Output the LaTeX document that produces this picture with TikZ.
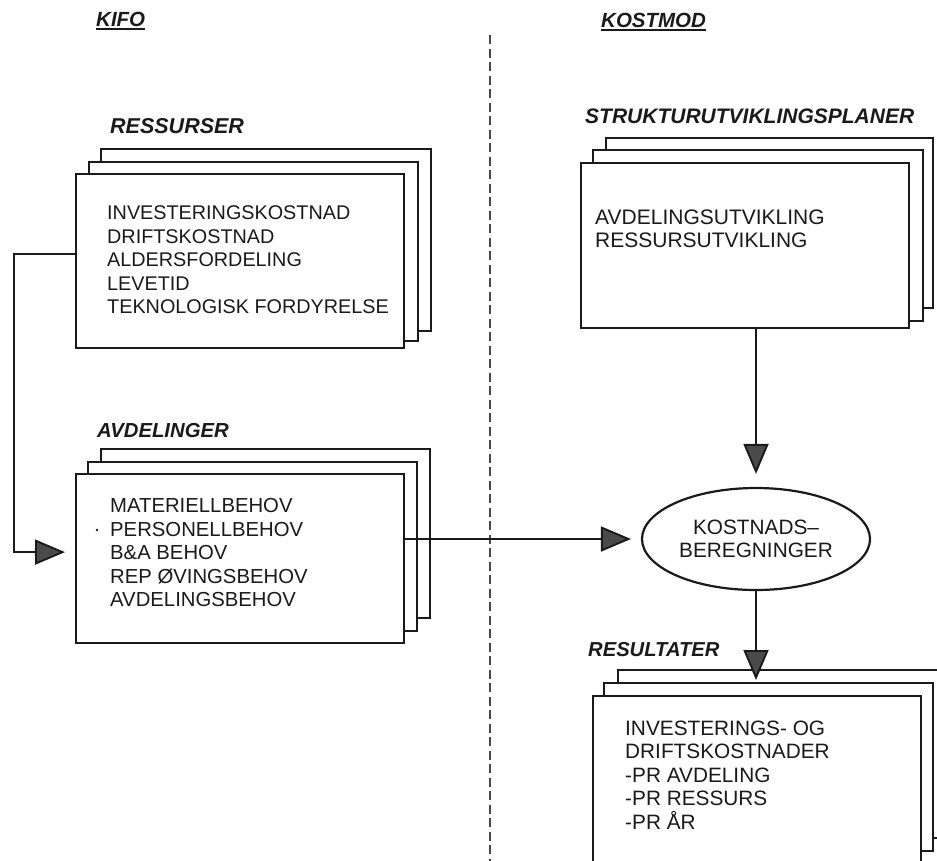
\documentclass[tikz,border=0pt]{standalone}
\usepackage{fontspec}
\setmainfont{Liberation Sans}
\usetikzlibrary{arrows.meta,shapes.geometric}

\definecolor{ink}{HTML}{1A1A1A}
\definecolor{headfill}{HTML}{4A4A4A}

\tikzset{
  sheet/.style={draw=ink, line width=2.2pt, fill=white, inner sep=0pt, anchor=north west},
  heading/.style={anchor=base west, inner sep=0pt, text=ink,
    font=\fontsize{#1}{24}\selectfont\bfseries\itshape},
  heading/.default=20.5,
  % multi-line text blocks are placed by the baseline of their last line
  body/.style={anchor=base west, inner sep=0pt, text=ink, align=left,
    font=\fontsize{#1}{23.5}\selectfont},
  body/.default=20,
  flow/.style={draw=ink, line width=1.9pt,
    -{Triangle[length=30pt,width=25pt,fill=headfill]}},
  rule/.style={draw=ink, line width=1.8pt},
  divider/.style={draw=ink!80, line width=2.4pt, dash pattern=on 9pt off 4.5pt},
}

\begin{document}
\begin{tikzpicture}[x=1pt, y=-1pt]
\useasboundingbox (0,0) rectangle (937,860);
\clip (0,0) rectangle (937,860);

% column headings
\node[heading] (kifo) at (96,26) {KIFO};
\node[heading] (kostmod) at (601,27) {KOSTMOD};
\draw[rule] ([yshift=-2.6pt]kifo.base west) -- ([yshift=-2.6pt]kifo.base east);
\draw[rule] ([yshift=-3pt]kostmod.base west) -- ([yshift=-3pt]kostmod.base east);

% dividing line between the two models
\coordinate (divtop) at (490,35);
\coordinate (divbot) at (490,862);
\draw[divider] (divtop) -- (divbot);

% RESSURSER stack
\node[heading=21.5] (lblres) at (110,133) {RESSURSER};
\node[sheet, minimum width=330pt, minimum height=182pt] (resB) at (100,148) {};
\node[sheet, minimum width=329pt, minimum height=179pt] (resM) at (88,161) {};
\node[sheet, minimum width=328pt, minimum height=174pt] (resF) at (75,173) {};
\node[body=19.8] (restext) at (107,313.5) {INVESTERINGSKOSTNAD\\DRIFTSKOSTNAD\\ALDERSFORDELING\\LEVETID\\TEKNOLOGISK FORDYRELSE};

% AVDELINGER stack
\node[heading=20.3] (lblavd) at (97,437) {AVDELINGER};
\node[sheet, minimum width=329pt, minimum height=169pt] (avdB) at (100,448) {};
\node[sheet, minimum width=329pt, minimum height=169pt] (avdM) at (87,461) {};
\node[sheet, minimum width=328pt, minimum height=169pt] (avdF) at (75,473) {};
\node[body=20.3] (avdtext) at (110,606.6) {MATERIELLBEHOV\\PERSONELLBEHOV\\B\&A BEHOV\\REP ØVINGSBEHOV\\AVDELINGSBEHOV};
\fill[ink] (97,530) circle (1.4pt);

% STRUKTURUTVIKLINGSPLANER stack
\node[heading=21] (lblstr) at (585,123) {STRUKTURUTVIKLINGSPLANER};
\node[sheet, minimum width=327pt, minimum height=170pt] (strB) at (605,137) {};
\node[sheet, minimum width=330pt, minimum height=171pt] (strM) at (592,149) {};
\node[sheet, minimum width=328pt, minimum height=165pt] (strF) at (580,162) {};
\node[body=21] (strtext) at (595,247.8) {AVDELINGSUTVIKLING\\RESSURSUTVIKLING};

% cost calculation
\node[ellipse, draw=ink, line width=2.2pt, fill=white, minimum width=228pt,
      minimum height=102pt, inner sep=0pt, align=center, text=ink,
      font=\fontsize{20.8}{23.3}\selectfont] (calc) at (756,539) {KOSTNADS–\\BEREGNINGER};

% RESULTATER stack
\node[heading=20.2] (lblresu) at (588,656) {RESULTATER};
\node[sheet, minimum width=340pt, minimum height=168pt] (resuB) at (617,669) {};
\node[sheet, minimum width=329pt, minimum height=168pt] (resuM) at (603,682) {};
\node[sheet, minimum width=328pt, minimum height=180pt] (resuF) at (592,695) {};
\node[body=20.8] (resutext) at (625,829) {INVESTERINGS- OG\\DRIFTSKOSTNADER\\-PR AVDELING\\-PR RESSURS\\-PR ÅR};

% connectors
\draw[flow, shorten >=10pt] ([yshift=7pt]resF.west) -- ++(-61,0) |- ([yshift=6.5pt]avdF.west);
\draw[flow, shorten >=10pt] (calc.west -| avdF.east) -- (calc.west);
\draw[flow, shorten >=13pt] (calc.north |- strF.south) -- (calc.north);
\draw[flow, shorten >=15pt] (calc.south) -- (calc.south |- resuF.north);

\end{tikzpicture}
\end{document}
